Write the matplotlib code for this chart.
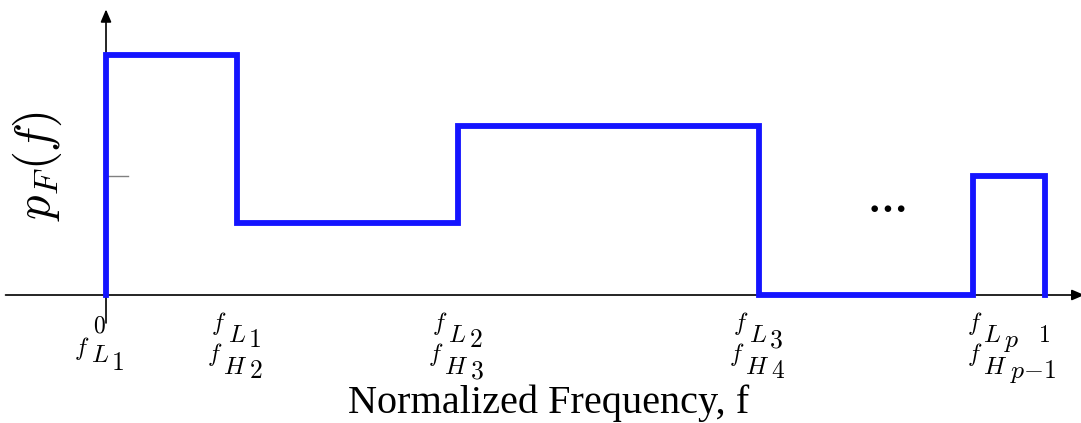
import matplotlib
matplotlib.use("Agg")
import matplotlib.pyplot as plt

plt.rcParams['mathtext.fontset'] = 'cm'

# band edges (normalized frequency) and piecewise-constant density levels
edges = [0.0, 0.1395, 0.375, 0.6955, 0.9235, 1.0]
levels = [2.02, 0.605, 1.42, 0.0, 1.0]
# tick labels: (base, first subscript, second subscript)
upper_labels = [None, ("f", "L", "1"), ("f", "L", "2"), ("f", "L", "3"), ("f", "L", "p"), None]
lower_labels = [("f", "L", "1"), ("f", "H", "2"), ("f", "H", "3"), ("f", "H", "4"), ("f", "H", "p-1"), None]
end_labels = {0: "0", 5: "1"}
ytick_value = 1.0

fig = plt.figure(figsize=(10.81, 4.23), dpi=100)
ax = fig.add_axes([0, 0, 1, 1])
ax.set_xlim(-0.1129, 1.0384)
ax.set_ylim(-1.0756, 2.479)
ax.axis('off')

arrow = dict(arrowstyle="-|>,head_length=0.75,head_width=0.32",
             color="black", lw=1.2, shrinkA=0, shrinkB=0)
ax.annotate("", xy=(1.042, 0), xytext=(-0.107, 0), arrowprops=arrow,
            annotation_clip=False)
ax.annotate("", xy=(0, 2.40), xytext=(0, -0.235), arrowprops=arrow,
            annotation_clip=False)
# y tick (pointing inward)
ax.plot([0, 0.023], [ytick_value, ytick_value], color="#808080", lw=1.0)

# step outline of the density
xs, ys = [edges[0]], [0.0]
for i, h in enumerate(levels):
    xs += [edges[i], edges[i + 1]]
    ys += [h, h]
xs.append(edges[-1])
ys.append(0.0)
ax.plot(xs, ys, color="#1414ff", lw=4.2, solid_joinstyle="miter", zorder=3)

renderer = fig.canvas.get_renderer()


def put(x, dx, dy, s, size):
    return ax.annotate(s, xy=(x, 0), xycoords="data", xytext=(dx, -dy),
                       textcoords="offset pixels", ha="left", va="baseline",
                       fontsize=size, annotation_clip=False)


def chained_label(x, parts, drops, anchor="center", shift=0.0):
    """Base letter followed by two progressively lowered subscripts."""
    sizes = [17.5, 18, 18.5]
    gaps = [1, 2]
    texts = [put(x, 0, d, "$" + p.replace("-", "{-}") + "$", s)
             for p, d, s in zip(parts, drops, sizes)]
    widths = [t.get_window_extent(renderer).width for t in texts]
    total = sum(widths) + sum(gaps)
    start = -total / 2 if anchor == "center" else 0.0
    start += shift
    pos = start
    for i, t in enumerate(texts):
        t.xyann = (pos, t.xyann[1])
        pos += widths[i] + (gaps[i] if i < len(gaps) else 0)


upper_drops = (35, 47, 52)
lower_drops = (66, 79, 83)
for i, x in enumerate(edges):
    if i == 0:
        chained_label(x, lower_labels[i], (60, 67, 75), shift=-7)
    elif i == 4:
        chained_label(x, upper_labels[i], upper_drops, anchor="left", shift=-6)
        chained_label(x, lower_labels[i], lower_drops, anchor="left", shift=-6)
    elif i < 5:
        chained_label(x, upper_labels[i], upper_drops, shift=-1)
        chained_label(x, lower_labels[i], lower_drops, shift=-2)

for i, s in end_labels.items():
    t = put(edges[i], 0, 0, "$" + s + "$", 17)
    w = t.get_window_extent(renderer).width
    if i == 0:
        t.xyann = (-7 - w / 2, -37)
    else:
        t.xyann = (-1 - w / 2, -47)

ax.text(0.4715, -0.99, "Normalized Frequency, f", fontsize=29,
        ha="center", va="baseline", family="Liberation Serif")
ax.text(-0.073, 1.08, r"$p_F(f)$", fontsize=35, rotation=90,
        ha="center", va="center")
ax.text(0.832, 0.75, r"$\mathbf{\cdots}$", fontsize=28, ha="center", va="center")

fig.savefig("out.png", dpi=100)
